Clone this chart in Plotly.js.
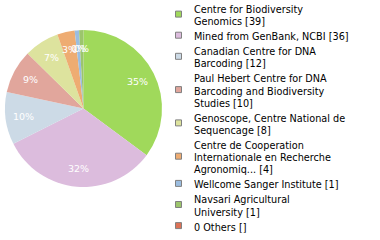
<!DOCTYPE html>
<html>
<head>
<meta charset="utf-8">
<script src="https://cdn.plot.ly/plotly-3.0.1.min.js"></script>
<style>html,body{margin:0;padding:0;background:#fff;}#chart{width:380px;height:240px;}</style>
</head>
<body>
<div id="chart"></div>
<script>
const labels = ["Centre for Biodiversity Genomics","Mined from GenBank, NCBI","Canadian Centre for DNA Barcoding","Paul Hebert Centre for DNA Barcoding and Biodiversity Studies","Genoscope, Centre National de Sequencage","Centre de Cooperation Internationale en Recherche Agronomiq...","Wellcome Sanger Institute","Navsari Agricultural University"];
const values = [39, 36, 12, 10, 8, 4, 1, 1];
const colors = ["#a0d95b","#dcbcdd","#ccdae6","#e1a69c","#dde39e","#eeac72","#9bbde0","#9cc56c"];
const legendLines = [
  ["Centre for Biodiversity","Genomics [39]"],
  ["Mined from GenBank, NCBI [36]"],
  ["Canadian Centre for DNA","Barcoding [12]"],
  ["Paul Hebert Centre for DNA","Barcoding and Biodiversity","Studies [10]"],
  ["Genoscope, Centre National de","Sequencage [8]"],
  ["Centre de Cooperation","Internationale en Recherche","Agronomiq... [4]"],
  ["Wellcome Sanger Institute [1]"],
  ["Navsari Agricultural","University [1]"],
  ["0 Others []"]
];
const legendColors = colors.concat(["#dd7256"]);

const W = 380, H = 240;
const total = values.reduce((a,b)=>a+b,0);
const pctText = values.map(v => Math.floor(v/total*100) + '%');

// pie geometry (domain in pixels)
const px0 = 5, px1 = 162, py0 = 30, py1 = 187;
const cx = (px0+px1)/2, cy = (py0+py1)/2, R = (px1-px0)/2;
const labelR = 0.77 * R;

const annotations = [];
const shapes = [];

// percent labels along each slice's mid-angle
let cum = 0;
values.forEach((v, i) => {
  const mid = (cum + v/2) / total * 2 * Math.PI;
  cum += v;
  const lx = cx + labelR * Math.sin(mid);
  const ly = cy - labelR * Math.cos(mid);
  annotations.push({xref:'paper', yref:'paper', x: lx/W, y: 1 - ly/H, xanchor:'center', yanchor:'middle',
    text: pctText[i], showarrow:false, font:{family:'DejaVu Sans', size:9.5, color:'#ffffff'}});
});

// legend
let y = 9.5;
const lineH = 12.2, gap = 15;
legendLines.forEach((lines, i) => {
  const first = y;
  lines.forEach((ln, j) => {
    annotations.push({xref:'paper', yref:'paper', x:192/W, y:1 - y/H, xanchor:'left', yanchor:'middle',
      text: ln, showarrow:false, font:{family:'DejaVu Sans', size:9.7, color:'#000'}});
    if (j < lines.length-1) y += lineH;
  });
  const mid = (first + y)/2 - 1.5;
  shapes.push({type:'rect', xref:'paper', yref:'paper', x0:175.5/W, x1:181.5/W, y0:1-(mid-3)/H, y1:1-(mid+3)/H,
    fillcolor: legendColors[i], line:{color:'#808080', width:1}});
  y += gap;
});

const trace = {
  type:'pie', labels: labels, values: values, sort:false, direction:'clockwise', rotation:0,
  marker:{colors: colors, line:{color:'#ffffff', width:0}},
  textinfo:'none', hoverinfo:'none',
  domain:{x:[px0/W, px1/W], y:[1-py1/H, 1-py0/H]}
};

Plotly.newPlot('chart', [trace], {
  width:W, height:H, margin:{l:0,r:0,t:0,b:0},
  paper_bgcolor:'#ffffff', showlegend:false,
  annotations: annotations, shapes: shapes
}, {staticPlot:true});
</script>
</body>
</html>
